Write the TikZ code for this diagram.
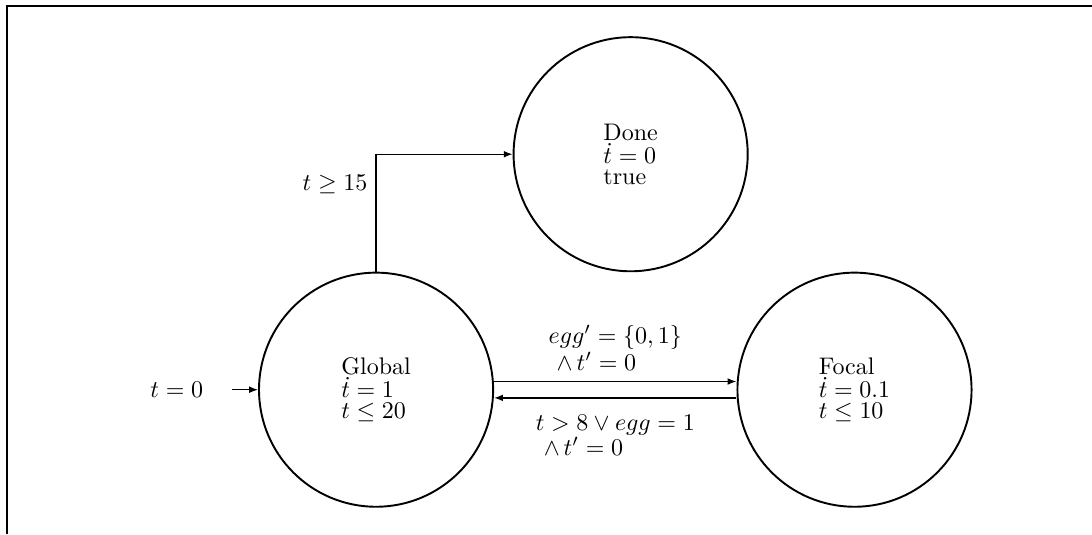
\documentclass[tikz,border=0pt]{standalone}
\usepackage{amsmath,amssymb}
\usetikzlibrary{arrows.meta,positioning,calc}
\tikzset{
  loc/.style={circle,draw,line width=0.8pt,minimum size=3.43cm,inner sep=0pt,align=left,font=\fontsize{10pt}{8.6pt}\selectfont},
  trans/.style={-{Latex[length=1.3mm,width=1mm]},line width=0.6pt},
  guard/.style={align=left,font=\fontsize{10pt}{9pt}\selectfont}
}

\begin{document}
\begin{tikzpicture}
\useasboundingbox (0,0) rectangle (16,7.83);
\draw[line width=0.9pt] (0.1,0) -- (0.1,7.74) -- (16,7.74);
% locations
\node[loc] (global) at (5.51,2.12) {Global\\$\dot{t}=1$\\$t\leq 20$};
\node[loc] (focal) at (12.52,2.12) {Focal\\$\dot{t}=0.1$\\$t\leq 10$};
\node[loc] (done) at (9.24,5.57) {Done\\$\dot{t}=0$\\true};
% initial
\coordinate (init) at (3.4,2.12);
\node[left=0.3cm of init] (initlbl) {$t=0$};
\draw[trans] (init) -- (global.west);
% transitions
\draw[trans] (global.north) |- (done.west) node[pos=0.37,left] (g2d) {$t\geq 15$};
\draw[trans] ($(global.east)+(0,0.12)$) -- ($(focal.west)+(0,0.12)$)
  node[midway,above=0.04cm,guard] (g2f) {$egg'=\{0,1\}$\\\ $\wedge\, t'=0$};
\draw[trans] ($(focal.west)+(0,-0.12)$) -- ($(global.east)+(0,-0.12)$)
  node[midway,below=0.12cm,guard] (f2g) {$t>8\vee egg=1$\\\ $\wedge\, t'=0$};
\end{tikzpicture}
\end{document}
